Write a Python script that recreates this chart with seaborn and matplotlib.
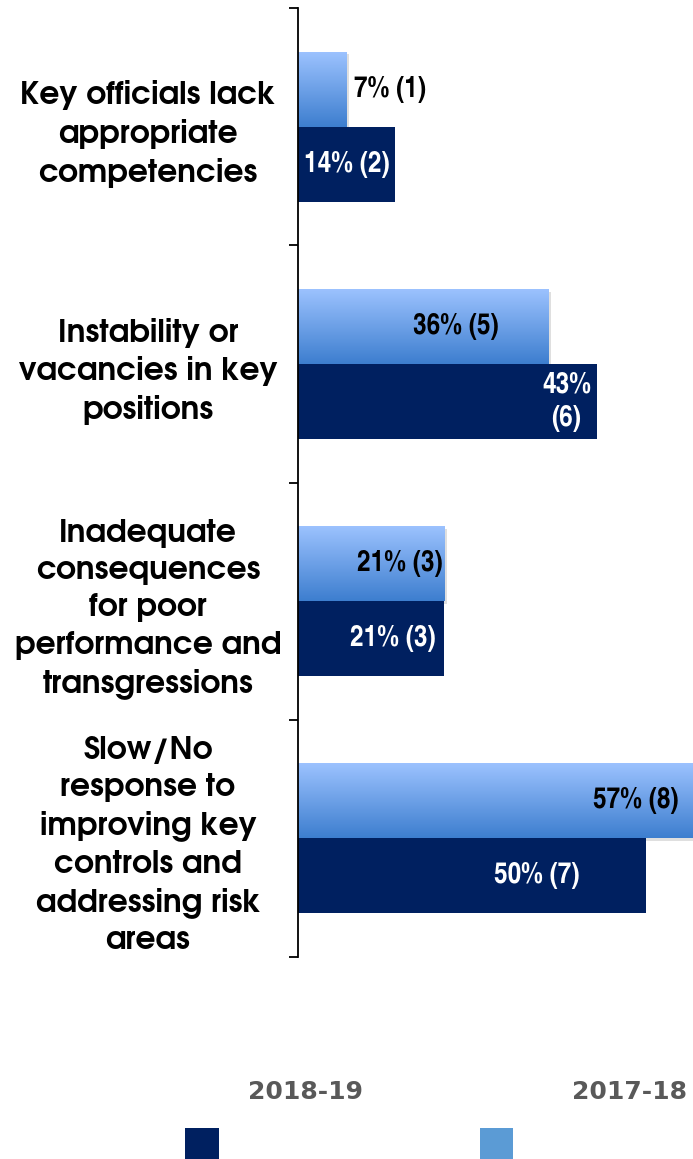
import matplotlib
matplotlib.use("Agg")
import matplotlib.pyplot as plt
import matplotlib.patheffects as pe
from matplotlib.patches import Rectangle
from matplotlib.colors import LinearSegmentedColormap
import numpy as np
import pandas as pd
import seaborn as sns

categories = [
    "Key officials lack\nappropriate\ncompetencies",
    "Instability or\nvacancies in key\npositions",
    "Inadequate\nconsequences\nfor poor\nperformance and\ntransgressions",
    "Slow/No\nresponse to\nimproving key\ncontrols and\naddressing risk\nareas",
]
pct_2017_18 = [7, 36, 21, 57]
cnt_2017_18 = [1, 5, 3, 8]
pct_2018_19 = [14, 43, 21, 50]
cnt_2018_19 = [2, 6, 3, 7]
years = ["2017-18", "2018-19"]

DARK = "#002060"
LIGHT_TOP = "#9DC3FF"
LIGHT_BOT = "#3D7ECF"
LEGEND_LIGHT = "#5B9BD5"

df = pd.DataFrame({
    "category": categories * 2,
    "value": pct_2017_18 + pct_2018_19,
    "count": cnt_2017_18 + cnt_2018_19,
    "year": [years[0]] * 4 + [years[1]] * 4,
})

sns.set_style("white")
plt.rcParams["font.family"] = ["DejaVu Sans"]

fig = plt.figure(figsize=(6.93, 11.59), dpi=100)
ax = fig.add_axes([298 / 693, 1 - 957 / 1159, 1 - 298 / 693, (957 - 8) / 1159])

sns.barplot(data=df, y="category", x="value", hue="year", hue_order=years,
            order=categories, orient="h", palette=[LIGHT_BOT, DARK],
            width=0.633, gap=0, ax=ax, legend=False, saturation=1,
            edgecolor="none", linewidth=0)

ax.set_xlim(0, 56.8)
ax.set_ylim(3.5, -0.5)

# gradient fill for the 2017-18 bars
cmap = LinearSegmentedColormap.from_list("lb", [LIGHT_TOP, LIGHT_BOT])
grad = np.linspace(0, 1, 256).reshape(-1, 1)
patches = list(ax.patches)
light_patches = patches[:4]
dark_patches = patches[4:8]
for p in light_patches:
    x0, y0 = p.get_x(), p.get_y()
    w, h = p.get_width(), p.get_height()
    p.set_path_effects([pe.SimplePatchShadow(offset=(2, -2), shadow_rgbFace="#808080", alpha=0.25), pe.Normal()])
    im = ax.imshow(grad, extent=[x0, x0 + w, y0 + h, y0], aspect="auto", cmap=cmap,
                   origin="upper", zorder=p.get_zorder() + 0.1)
    im.set_clip_path(p)
ax.set_xlim(0, 56.8)
ax.set_ylim(3.5, -0.5)

# value labels
lab_font = dict(family=["TeX Gyre Heros Cn", "Liberation Sans"], fontweight="bold", fontsize=21.5)
light_lx = [None, 22.7, 14.7, 48.6]
dark_lx = [7.0, 38.6, 13.7, 34.3]
for i, p in enumerate(light_patches):
    yc = p.get_y() + p.get_height() / 2
    txt = f"{pct_2017_18[i]}% ({cnt_2017_18[i]})"
    if light_lx[i] is None:
        ax.text(p.get_width() + 1.1, yc, txt, ha="left", va="center", color="black", zorder=5, **lab_font)
    else:
        ax.text(light_lx[i], yc, txt, ha="center", va="center", color="black", zorder=5, **lab_font)
for i, p in enumerate(dark_patches):
    yc = p.get_y() + p.get_height() / 2
    txt = f"{pct_2018_19[i]}% ({cnt_2018_19[i]})"
    if i == 1:
        txt = f"{pct_2018_19[i]}%\n({cnt_2018_19[i]})"
    ax.text(dark_lx[i], yc, txt, ha="center", va="center", color="white", zorder=5,
            linespacing=1.3, **lab_font)

# axes styling
for s in ["top", "right", "bottom"]:
    ax.spines[s].set_visible(False)
ax.spines["left"].set_color("black")
ax.spines["left"].set_linewidth(1.3)
ax.set_xticks([])
ax.set_xlabel("")
ax.set_ylabel("")
ax.set_yticks(range(4))
ax.set_yticklabels(categories, ha="center", fontsize=22.5, fontweight="bold", color="black",
                   family=["TeX Gyre Adventor", "DejaVu Sans"], linespacing=1.36)
ax.set_yticks(np.arange(-0.5, 4, 1), minor=True)
ax.tick_params(axis="y", which="major", length=0, pad=108)
ax.tick_params(axis="y", which="minor", length=6.5, width=1.3, color="black", left=True)

# legend
leg_font = dict(family=["DejaVu Sans"], fontweight="bold", fontsize=18, color="#595959")
fig.text(305 / 693, 1 - 1092 / 1159, years[1], ha="center", va="center", **leg_font)
fig.text(629 / 693, 1 - 1092 / 1159, years[0], ha="center", va="center", **leg_font)
fig.patches.append(Rectangle((185 / 693, 0), 34 / 693, 31 / 1159, transform=fig.transFigure,
                             facecolor=DARK, edgecolor="none"))
fig.patches.append(Rectangle((480 / 693, 0), 33 / 693, 31 / 1159, transform=fig.transFigure,
                             facecolor=LEGEND_LIGHT, edgecolor="none"))

fig.savefig("out.png", dpi=100)
